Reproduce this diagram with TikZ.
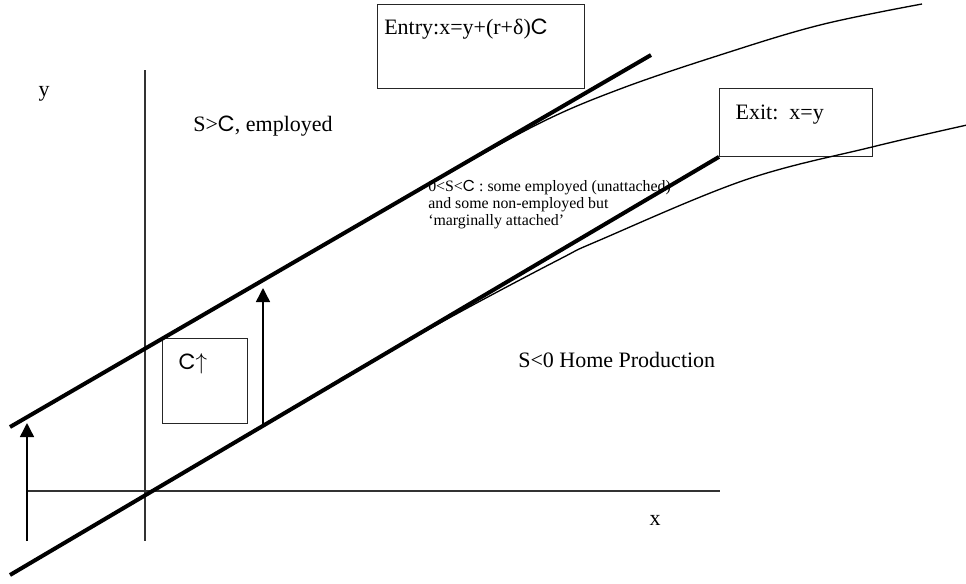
\documentclass[tikz,border=0pt]{standalone}
\usepackage{fontspec}
\setmainfont{Liberation Serif}
\newfontfamily\cfont{Poppins}
\usetikzlibrary{arrows.meta}
\newcommand{\Cs}{{\cfont C}}
\begin{document}
\begin{tikzpicture}[x=0.75pt,y=-0.75pt,
  thickline/.style={line width=3pt},
  thinline/.style={line width=1pt},
  axisline/.style={line width=1.1pt, draw=black!80},
  box/.style={draw=black!85, line width=0.9pt, anchor=north west, inner xsep=12pt, inner ysep=0pt, align=left, font=\fontsize{16.5}{19}\selectfont},
  arr/.style={line width=1.1pt, -{Triangle[length=10.5pt,width=10.5pt]}},
  lbl/.style={font=\fontsize{16.5}{19}\selectfont, inner sep=0pt},
  small/.style={font=\fontsize{11.9}{12.8}\selectfont, inner sep=0pt, align=left, anchor=north west}]
\useasboundingbox (0,0) rectangle (966,583);
% boxes
\node[box, inner xsep=5pt, text width=145pt, text height=22.5pt, text depth=40.5pt] (entry) at (377,4) {Entry:x=y+(r+δ)\Cs};
\node[box, text width=90.75pt, text height=23pt, text depth=27.75pt] (exit) at (719,88) {Exit: x=y};
\node[box, text width=39.75pt, text height=23pt, text depth=40.5pt] (cbox) at (162,338) {\Cs$\uparrow$};
% axes
\coordinate (ytop) at (145,70);
\coordinate (ybot) at (145,541);
\coordinate (xl) at (27,491);
\coordinate (xr) at (720,491);
\draw[axisline] (ytop) -- (ybot);
\draw[axisline] (xl) -- (xr);
% thick lines
\coordinate (u0) at (10,427);
\coordinate (u1) at (651,55);
\coordinate (l0) at (10,575);
\draw[thickline] (u0) -- (u1);
\draw[thickline] (l0) -- (exit.south west);
% thin curves
\draw[thinline] plot[smooth, tension=0.6] coordinates {(440,178) (540,123) (620,89) (720,55) (820,25) (922,4)};
\draw[thinline] plot[smooth, tension=0.6] coordinates {(340,379) (460,312) (560,259) (600,240) (745,180) (872,147) (967,125)};
% arrows
\coordinate (a0) at (27,541);
\coordinate (a0t) at (27,423);
\coordinate (a1) at (263,424);
\coordinate (a1t) at (263,288);
\draw[arr] (a0) -- (a0t);
\draw[arr] (a1) -- (a1t);
% labels
\node[lbl] (ylab) at (44,94) {y};
\node[lbl] (xlab) at (655,520) {x};
\node[lbl, anchor=west] (emp) at (193,126) {S>\Cs, employed};
\node[lbl, anchor=west] (home) at (518,360) {S<0 Home Production};
\node[small] (mid) at (428,180) {0<S<\Cs\ : some employed (unattached)\\and some non-employed but\\‘marginally attached’};
\end{tikzpicture}
\end{document}
